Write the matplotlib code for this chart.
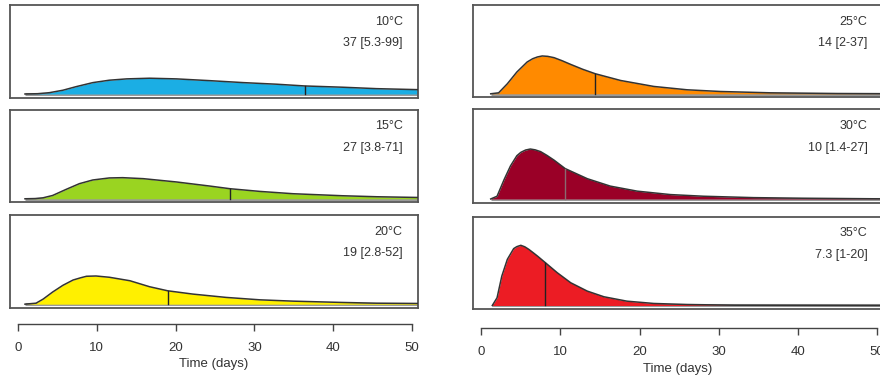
import numpy as np
import matplotlib
matplotlib.use('Agg')
import matplotlib.pyplot as plt

plt.rcParams['font.family'] = ['Liberation Sans', 'DejaVu Sans']

# values (days, density)
temps = ['10°C', '15°C', '20°C', '25°C', '30°C', '35°C']
summary = ['37 [5.3-99]', '27 [3.8-71]', '19 [2.8-52]', '14 [2-37]', '10 [1.4-27]', '7.3 [1-20]']
colors = ['#1BAEE4', '#9AD421', '#FFF000', '#FF8A00', '#9A0027', '#EC1C24']
line_cols = ['#222222', '#222222', '#222222', '#222222', '#8a6a70', '#222222']
mean_day = [36.4, 26.9, 19.0, 14.4, 10.6, 8.1]

days_10 = [0.9, 2.5, 4.0, 5.7, 7.4, 9.5, 11.6, 13.8, 16.7, 20.1, 24.3, 28.6, 32.8, 36.4, 41.2, 45.5, 50.7]
dens_10 = [0, 0.0005, 0.0024, 0.0068, 0.0134, 0.0207, 0.0251, 0.0275, 0.0287, 0.0275, 0.0243, 0.0207,
           0.0178, 0.0146, 0.0123, 0.0097, 0.0079]

days_15 = [0.9, 2.2, 3.2, 4.4, 6.1, 7.8, 9.5, 11.6, 13.3, 15.9, 20.1, 24.3, 26.9, 30.7, 34.9, 41.2, 45.5, 50.7]
dens_15 = [0, 0.0004, 0.0018, 0.006, 0.017, 0.0275, 0.0342, 0.0379, 0.0384, 0.0366, 0.0306, 0.0232,
           0.0183, 0.0134, 0.0092, 0.0055, 0.0037, 0.0024]

days_20 = [0.9, 2.3, 3.2, 4.4, 5.7, 7.0, 8.0, 8.7, 9.9, 11.6, 14.2, 16.7, 19.0, 22.2, 26.4, 30.7, 34.9,
           41.2, 45.5, 50.7]
dens_20 = [0, 0.0018, 0.0092, 0.022, 0.0342, 0.0439, 0.0481, 0.0507, 0.0512, 0.0489, 0.0426, 0.0317,
           0.0243, 0.0183, 0.0123, 0.0079, 0.0055, 0.0031, 0.0018, 0.0013]

days_25 = [1.2, 2.2, 3.3, 4.5, 5.8, 6.5, 7.1, 7.7, 8.4, 9.2, 10.2, 11.3, 12.8, 14.4, 17.6, 21.8, 26.0,
           30.2, 36.5, 44.9, 50.7]
dens_25 = [0, 0.0018, 0.0183, 0.0397, 0.058, 0.064, 0.0672, 0.069, 0.0683, 0.0659, 0.0604, 0.0536,
           0.0448, 0.0366, 0.0243, 0.0134, 0.0073, 0.0042, 0.0018, 0.0005, 0.0002]

days_30 = [1.2, 2.0, 2.9, 3.7, 4.5, 5.0, 5.6, 6.2, 6.8, 7.5, 8.3, 9.2, 10.6, 13.4, 16.3, 19.7, 23.9,
           28.1, 34.4, 40.7, 50.7]
dens_30 = [0, 0.0049, 0.0353, 0.0598, 0.0781, 0.0842, 0.0884, 0.0902, 0.0888, 0.0855, 0.0787, 0.0701,
           0.0549, 0.0366, 0.0232, 0.0141, 0.0079, 0.0049, 0.0024, 0.0013, 0.0002]

days_35 = [1.4, 2.0, 2.6, 3.3, 4.1, 4.5, 5.0, 5.5, 6.0, 6.5, 7.1, 8.1, 9.6, 11.3, 13.4, 15.5, 18.4,
           21.8, 26.0, 32.0, 50.7]
dens_35 = [0, 0.0141, 0.0536, 0.0842, 0.1038, 0.1074, 0.1098, 0.1071, 0.1025, 0.097, 0.0902, 0.0781,
           0.0598, 0.0415, 0.0262, 0.0159, 0.0079, 0.0037, 0.0018, 0.0005, 0]

all_days = [days_10, days_15, days_20, days_25, days_30, days_35]
all_dens = [dens_10, dens_15, dens_20, dens_25, dens_30, dens_35]
ticks = [0, 10, 20, 30, 40, 50]

W, H = 880, 375
fig = plt.figure(figsize=(8.8, 3.75), dpi=100)

# panel boxes in pixels: left, top, right, bottom
boxes = [(10, 5, 417.7, 97.5), (10, 109.7, 417.7, 202.3), (10, 215, 417.7, 307.7),
         (473.3, 5, 882.7, 97.3), (473.3, 109.3, 882.7, 202.5), (473.3, 216.7, 882.7, 309)]

for i in range(6):
    l, t, r, b = boxes[i]
    ax = fig.add_axes([l / W, 1 - b / H, (r - l) / W, (b - t) / H])
    x = np.array(all_days[i])
    y = np.array(all_dens[i])
    ax.plot([x[0], 51], [0, 0], color='#9a9a9a', lw=2.2, solid_capstyle='butt', zorder=1)
    ax.fill_between(x, 0, y, color=colors[i], lw=0, zorder=2)
    ax.plot(x, y, color='#333333', lw=1.1, zorder=3)
    ax.plot([mean_day[i], mean_day[i]], [0, np.interp(mean_day[i], x, y)], color=line_cols[i], lw=1.0, zorder=3)
    ax.text(48.8, 0.82, temps[i], transform=ax.get_xaxis_transform(), ha='right', va='center',
            fontsize=9, color='#333333')
    ax.text(48.8, 0.59, summary[i], transform=ax.get_xaxis_transform(), ha='right', va='center',
            fontsize=9, color='#333333')
    ax.set_xlim(-1.0, 50.7)
    ax.set_ylim(-0.0064, 0.162)
    ax.set_xticks([])
    ax.set_yticks([])
    for s in ax.spines.values():
        s.set_color('#555555')
        s.set_linewidth(1.3)

# separate time axes under each column
for l, r, yline in [(10, 417.7, 324), (473.3, 882.7, 328.3)]:
    axx = fig.add_axes([l / W, 1 - yline / H, (r - l) / W, 0.001])
    axx.set_xlim(-1.0, 50.7)
    for s in ['top', 'left', 'right']:
        axx.spines[s].set_visible(False)
    axx.spines['bottom'].set_bounds(0, 50)
    axx.spines['bottom'].set_color('#444444')
    axx.spines['bottom'].set_linewidth(1.0)
    axx.set_yticks([])
    axx.set_xticks(ticks)
    axx.tick_params(axis='x', direction='out', length=5, width=1.0, color='#444444',
                    labelsize=9.5, labelcolor='#333333', pad=8)
    axx.set_xlabel('Time (days)', fontsize=9.5, color='#333333', labelpad=3)

fig.savefig('out.png', dpi=100)
